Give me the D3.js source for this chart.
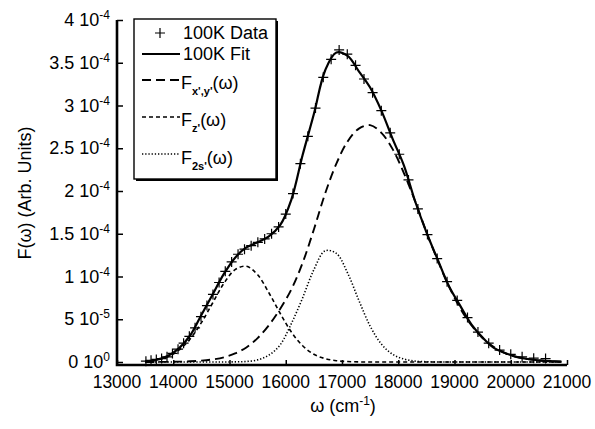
<!DOCTYPE html>
<html>
<head>
<meta charset="utf-8">
<script src="https://cdn.jsdelivr.net/npm/d3@7"></script>
<style>
  body { margin: 0; background: #fff; }
  text { font-family: "Liberation Sans", Arial, Helvetica, sans-serif; fill: #000; }
</style>
</head>
<body>
<div id="vis"></div>
<script>
const FRAME_WIDTH = 595;
const FRAME_HEIGHT = 429;

// sample positions (cm-1) for the curves
const W = [13500, 13700, 13900, 14100, 14300, 14500, 14700, 14900, 15100, 15300,
           15500, 15700, 15900, 16100, 16300, 16500, 16700, 16900, 17100, 17300,
           17500, 17700, 17900, 18100, 18300, 18500, 18700, 18900, 19100, 19300,
           19500, 19700, 19900, 20100, 20300, 20500, 20700, 20900];

// curve values, in units of 1e-4
const FIT = [0.004, 0.025, 0.07, 0.16, 0.31, 0.55, 0.79, 1.03, 1.22, 1.34,
             1.40, 1.47, 1.60, 1.90, 2.42, 2.90, 3.41, 3.62, 3.58, 3.40,
             3.21, 2.94, 2.61, 2.30, 1.88, 1.52, 1.20, 0.89, 0.66, 0.44,
             0.285, 0.165, 0.105, 0.06, 0.035, 0.02, 0.01, 0.005];
const F_XY = [0, 0.001, 0.002, 0.004, 0.008, 0.016, 0.03, 0.055, 0.10, 0.17,
              0.28, 0.43, 0.62, 0.85, 1.16, 1.55, 1.97, 2.32, 2.58, 2.73,
              2.77, 2.68, 2.49, 2.21, 1.88, 1.52, 1.19, 0.885, 0.63, 0.43,
              0.28, 0.175, 0.105, 0.06, 0.034, 0.018, 0.009, 0.004];
const F_Z = [0.01, 0.025, 0.06, 0.14, 0.27, 0.46, 0.69, 0.92, 1.08, 1.12,
             1.02, 0.81, 0.57, 0.35, 0.19, 0.09, 0.04, 0.015, 0.005, 0.001,
             0, 0, 0, 0, 0, 0, 0, 0, 0, 0,
             0, 0, 0, 0, 0, 0, 0, 0];
const F_2S = [0, 0, 0, 0, 0, 0, 0, 0, 0.002, 0.006,
              0.025, 0.08, 0.20, 0.45, 0.75, 1.08, 1.30, 1.27, 1.04, 0.72,
              0.42, 0.21, 0.09, 0.035, 0.01, 0.003, 0, 0, 0, 0,
              0, 0, 0, 0, 0, 0, 0, 0];

// 100K data points
const DATA_W = [13514, 13605, 13699, 13793, 13889, 13986, 14085, 14184, 14286, 14388,
                14493, 14599, 14706, 14815, 14925, 15038, 15152, 15267, 15385, 15504,
                15625, 15748, 15873, 16000, 16129, 16260, 16393, 16529, 16667, 16807,
                16949, 17094, 17241, 17391, 17544, 17699, 17857, 18018, 18182, 18349,
                18519, 18692, 18868, 19048, 19231, 19417, 19608, 19802, 20000, 20202,
                20408, 20619];
const DATA_F = [0.01, 0.02, 0.03, 0.04, 0.06, 0.10, 0.15, 0.22, 0.30, 0.40,
                0.53, 0.66, 0.79, 0.93, 1.06, 1.17, 1.26, 1.32, 1.36, 1.40,
                1.44, 1.50, 1.58, 1.73, 1.97, 2.32, 2.64, 2.97, 3.33, 3.54,
                3.65, 3.60, 3.47, 3.31, 3.15, 2.94, 2.68, 2.43, 2.13, 1.79,
                1.49, 1.21, 0.94, 0.72, 0.52, 0.35, 0.22, 0.14, 0.09, 0.06,
                0.045, 0.04];

const UNIT = 1e-4;
const X_TICKS = [13000, 14000, 15000, 16000, 17000, 18000, 19000, 20000, 21000];
const Y_TICKS = [4e-4, 3.5e-4, 3e-4, 2.5e-4, 2e-4, 1.5e-4, 1e-4, 5e-5, 0];
const Y_MANT = ["4", "3.5", "3", "2.5", "2", "1.5", "1", "5", "0"];
const Y_EXP = ["-4", "-4", "-4", "-4", "-4", "-4", "-4", "-5", "0"];

const svg = d3.select("#vis")
  .append("svg")
    .attr("width", FRAME_WIDTH)
    .attr("height", FRAME_HEIGHT);

const X_SCALE = d3.scaleLinear().domain([13000, 21000]).range([117, 567]);
const Y_SCALE = d3.scaleLinear().domain([0, 4e-4]).range([362, 20]);
const AXIS_Y = 365;

// curves
const line = (vals) => d3.line()
  .x((d, i) => X_SCALE(W[i]))
  .y((d) => Y_SCALE(d * UNIT))
  .curve(d3.curveCatmullRom.alpha(0.5))(vals);

const series = [
  {vals: F_Z, dash: "4,3", width: 1.6},
  {vals: F_2S, dash: "1.3,1.9", width: 1.6},
  {vals: F_XY, dash: "9,5", width: 1.9},
  {vals: FIT, dash: null, width: 2.2}
];

svg.selectAll(".curve")
  .data(series)
  .enter()
  .append("path")
    .attr("class", "curve")
    .attr("d", (s) => line(s.vals))
    .attr("fill", "none")
    .attr("stroke", "#000")
    .attr("stroke-width", (s) => s.width)
    .attr("stroke-dasharray", (s) => s.dash);

// data crosses
const CROSS = "M-5,0H5M0,-5V5";
svg.selectAll(".pt")
  .data(DATA_W)
  .enter()
  .append("path")
    .attr("class", "pt")
    .attr("transform", (d, i) => "translate(" + X_SCALE(d) + "," + Y_SCALE(DATA_F[i] * UNIT) + ")")
    .attr("d", CROSS)
    .attr("stroke", "#000")
    .attr("stroke-width", 1.2);

// axes (ticks inward)
const xAxis = svg.append("g")
  .attr("transform", "translate(0," + AXIS_Y + ")")
  .call(d3.axisBottom(X_SCALE).tickValues(X_TICKS).tickSize(-5).tickSizeOuter(0).tickFormat(""));
xAxis.select(".domain").remove();
xAxis.selectAll(".tick line").attr("stroke-width", 1.5);

const yAxis = svg.append("g")
  .attr("transform", "translate(" + X_SCALE(13000) + ",0)")
  .call(d3.axisLeft(Y_SCALE).tickValues(Y_TICKS).tickSize(-6).tickSizeOuter(0).tickFormat(""));
yAxis.select(".domain").remove();
yAxis.selectAll(".tick line").attr("stroke-width", 1.5);

svg.append("path")
  .attr("d", "M" + X_SCALE(13000) + "," + Y_SCALE(4e-4) + "V" + AXIS_Y + "H" + X_SCALE(21000))
  .attr("fill", "none")
  .attr("stroke", "#000")
  .attr("stroke-width", 2.6);

// tick labels
svg.selectAll(".xlab")
  .data(X_TICKS)
  .enter()
  .append("text")
    .attr("class", "xlab")
    .attr("x", (d) => X_SCALE(d))
    .attr("y", 388)
    .attr("text-anchor", "middle")
    .attr("font-size", "17.5px")
    .text((d) => d);

const ylab = svg.selectAll(".ylab")
  .data(Y_TICKS)
  .enter()
  .append("text")
    .attr("class", "ylab")
    .attr("x", 110)
    .attr("y", (d) => Y_SCALE(d) + 6)
    .attr("text-anchor", "end")
    .attr("font-size", "18px");
ylab.append("tspan").text((d, i) => Y_MANT[i] + " 10");
ylab.append("tspan").attr("dy", -7).attr("font-size", "12px").text((d, i) => Y_EXP[i]);

// axis titles
const xt = svg.append("text")
  .attr("x", 343).attr("y", 412)
  .attr("text-anchor", "middle")
  .attr("font-size", "18px");
xt.append("tspan").text("ω (cm");
xt.append("tspan").attr("dy", -7).attr("font-size", "12px").text("-1");
xt.append("tspan").attr("dy", 7).text(")");

svg.append("text")
  .attr("transform", "translate(31,193) rotate(-90)")
  .attr("text-anchor", "middle")
  .attr("font-size", "18px")
  .text("F(ω) (Arb. Units)");

// legend box with shadow
svg.append("rect").attr("x", 136).attr("y", 21).attr("width", 142).attr("height", 160).attr("fill", "#000");
svg.append("rect").attr("x", 134).attr("y", 19).attr("width", 142).attr("height", 160)
  .attr("fill", "#fff").attr("stroke", "#000").attr("stroke-width", 1.4);

svg.append("path").attr("transform", "translate(160,33)").attr("d", CROSS)
  .attr("stroke", "#000").attr("stroke-width", 1.2);
svg.append("text").attr("x", 183).attr("y", 39).attr("font-size", "18px").text("100K Data");

const legLines = [
  {y: 54, dash: null, width: 2},
  {y: 80, dash: "9,5", width: 1.8},
  {y: 117, dash: "4,3", width: 1.6},
  {y: 154, dash: "1.3,1.9", width: 1.6}
];
svg.selectAll(".legline")
  .data(legLines)
  .enter()
  .append("line")
    .attr("x1", 142).attr("x2", 180)
    .attr("y1", (d) => d.y).attr("y2", (d) => d.y)
    .attr("stroke", "#000")
    .attr("stroke-width", (d) => d.width)
    .attr("stroke-dasharray", (d) => d.dash);

svg.append("text").attr("x", 183).attr("y", 60).attr("font-size", "18px").text("100K Fit");

const legF = [
  {y: 89, sub: "x',y'"},
  {y: 126, sub: "z'"},
  {y: 164, sub: "2s'"}
];
const lf = svg.selectAll(".legf")
  .data(legF)
  .enter()
  .append("text")
    .attr("x", 181)
    .attr("y", (d) => d.y)
    .attr("font-size", "18px");
lf.append("tspan").text("F");
lf.append("tspan").attr("dy", 6).attr("font-size", "11px").attr("font-weight", "bold").text((d) => d.sub);
lf.append("tspan").attr("dy", -6).text("(ω)");
</script>
</body>
</html>
